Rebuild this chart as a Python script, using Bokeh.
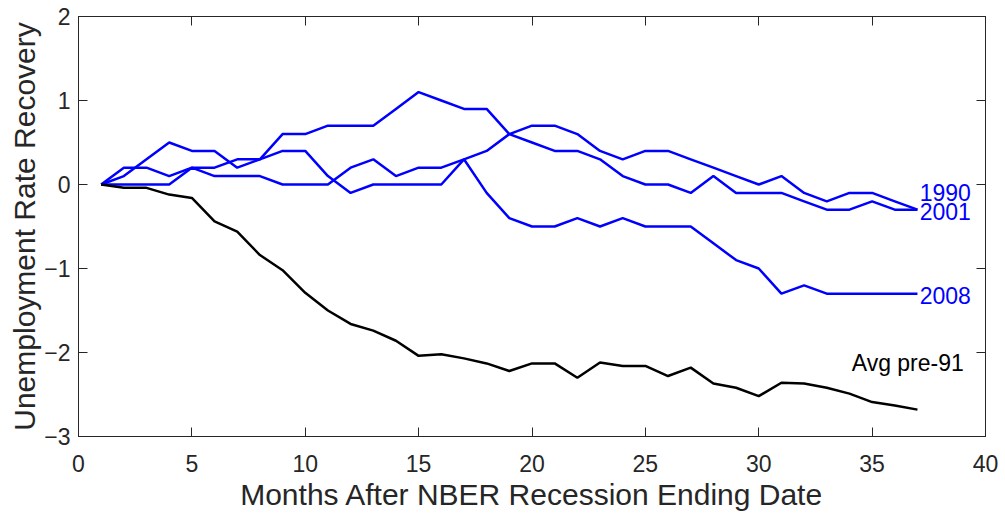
from bokeh.plotting import figure
from bokeh.models import Range1d, FixedTicker, LinearAxis, ColumnDataSource
from bokeh.core.properties import value
from bokeh.embed import file_html
from bokeh.resources import INLINE

# Months after the NBER trough, and change in the unemployment rate (pp)
months = list(range(1, 38))

rec_1990 = [0.0, 0.2, 0.2, 0.1, 0.2, 0.2, 0.3, 0.3, 0.6, 0.6, 0.7, 0.7, 0.7,
            0.9, 1.1, 1.0, 0.9, 0.9, 0.6, 0.5, 0.4, 0.4, 0.3, 0.1, 0.0, 0.0,
            -0.1, 0.1, -0.1, -0.1, -0.1, -0.2, -0.3, -0.3, -0.2, -0.3, -0.3]

rec_2001 = [0.0, 0.0, 0.0, 0.0, 0.2, 0.1, 0.1, 0.1, 0.0, 0.0, 0.0, 0.2, 0.3,
            0.1, 0.2, 0.2, 0.3, 0.4, 0.6, 0.7, 0.7, 0.6, 0.4, 0.3, 0.4, 0.4,
            0.3, 0.2, 0.1, 0.0, 0.1, -0.1, -0.2, -0.1, -0.1, -0.2, -0.3]

rec_2008 = [0.0, 0.1, 0.3, 0.5, 0.4, 0.4, 0.2, 0.3, 0.4, 0.4, 0.1, -0.1, 0.0,
            0.0, 0.0, 0.0, 0.3, -0.1, -0.4, -0.5, -0.5, -0.4, -0.5, -0.4, -0.5,
            -0.5, -0.5, -0.7, -0.9, -1.0, -1.3, -1.2, -1.3, -1.3, -1.3, -1.3, -1.3]

avg_pre91 = [0.0, -0.04, -0.04, -0.12, -0.16, -0.44, -0.56, -0.84, -1.02, -1.29,
             -1.50, -1.66, -1.74, -1.86, -2.04, -2.02, -2.07, -2.13, -2.22, -2.13,
             -2.13, -2.30, -2.12, -2.16, -2.16, -2.28, -2.18, -2.37, -2.42, -2.52,
             -2.36, -2.37, -2.42, -2.49, -2.59, -2.63, -2.68]

x_ticks = [0, 5, 10, 15, 20, 25, 30, 35, 40]
y_ticks = [-3, -2, -1, 0, 1, 2]

FONT = "Liberation Sans"
AXIS_COLOR = "#262626"
BLUE = "#0000ff"

p = figure(width=1005, height=518, output_backend="svg", toolbar_location=None,
           x_range=Range1d(0, 40), y_range=Range1d(-3, 2),
           min_border_left=78, min_border_right=20,
           min_border_top=16, min_border_bottom=82)
p.background_fill_color = "white"
p.border_fill_color = "white"
p.xgrid.visible = False
p.ygrid.visible = False
p.outline_line_color = AXIS_COLOR
p.outline_line_width = 1

def style_axis(ax, ticks, show_labels=True):
    ax.ticker = FixedTicker(ticks=ticks)
    ax.axis_line_color = AXIS_COLOR
    ax.major_tick_line_color = AXIS_COLOR
    ax.major_tick_in = 9
    ax.major_tick_out = 0
    ax.minor_tick_line_color = None
    ax.major_label_text_font = FONT
    ax.major_label_text_color = AXIS_COLOR
    ax.major_label_text_font_size = "23px"
    if not show_labels:
        # tick marks only on the mirrored sides of the box
        ax.major_label_overrides = {t: "" for t in ticks}
        ax.major_label_standoff = 0

style_axis(p.xaxis[0], x_ticks)
style_axis(p.yaxis[0], y_ticks)
p.xaxis.major_label_standoff = 18
p.yaxis.major_label_standoff = 8

p.xaxis.axis_label = "Months After NBER Recession Ending Date"
p.yaxis.axis_label = "Unemployment Rate Recovery"
for ax in (p.xaxis[0], p.yaxis[0]):
    ax.axis_label_text_font = FONT
    ax.axis_label_text_font_size = "30px"
    ax.axis_label_text_font_style = "normal"
    ax.axis_label_text_color = AXIS_COLOR
p.xaxis.axis_label_standoff = 3
p.yaxis.axis_label_standoff = 0

# box ticks on the opposite sides
right_ax = LinearAxis()
style_axis(right_ax, y_ticks, show_labels=False)
p.add_layout(right_ax, "right")
top_ax = LinearAxis()
style_axis(top_ax, x_ticks, show_labels=False)
p.add_layout(top_ax, "above")

src = ColumnDataSource(dict(m=months, r90=rec_1990, r01=rec_2001,
                            r08=rec_2008, avg=avg_pre91))
for col in ("r90", "r01", "r08"):
    p.line("m", col, source=src, line_color=BLUE, line_width=2.5)
p.line("m", "avg", source=src, line_color="black", line_width=2.5)

# series labels at the right end of each line
end_x = months[-1] + 0.1
p.text(x=[end_x, end_x, end_x], y=[rec_1990[-1] + 0.2, rec_2001[-1] - 0.02, rec_2008[-1] - 0.02],
       text=["1990", "2001", "2008"], text_color=BLUE, text_font=value(FONT),
       text_font_size="23px", text_align="left", text_baseline="middle")
p.text(x=[34.1], y=[avg_pre91[-1] + 0.55], text=["Avg pre-91"], text_color="black",
       text_font=value(FONT), text_font_size="23px", text_align="left",
       text_baseline="middle")

open("out.html", "w").write(file_html(p, INLINE))
